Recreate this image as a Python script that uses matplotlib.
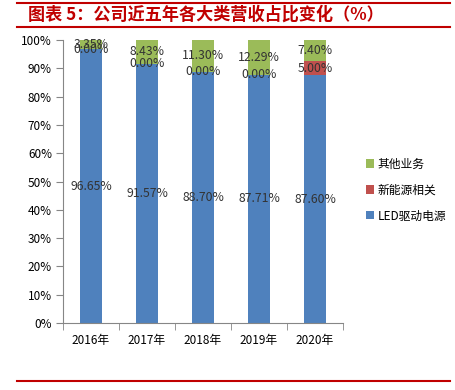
import matplotlib.pyplot as plt
import numpy as np
from matplotlib.lines import Line2D

plt.rcParams['font.family'] = ['Noto Sans CJK SC', 'DejaVu Sans']

years = ['2016年', '2017年', '2018年', '2019年', '2020年']
led = [96.65, 91.57, 88.70, 87.71, 87.60]
new_energy = [0.00, 0.00, 0.00, 0.00, 5.00]
other = [3.35, 8.43, 11.30, 12.29, 7.40]

c_led = '#4F81BD'
c_ne = '#C0504D'
c_other = '#9BBB59'
red = '#C00000'

fig = plt.figure(figsize=(4.55, 3.9), dpi=100)
ax = fig.add_axes([63 / 455, 1 - 323 / 390, 280 / 455, 283 / 390])

x = np.arange(len(years))
w = 0.39
led = np.array(led)
new_energy = np.array(new_energy)
other = np.array(other)

b1 = ax.bar(x, led, w, color=c_led, label='LED驱动电源')
b2 = ax.bar(x, new_energy, w, bottom=led, color=c_ne, label='新能源相关')
b3 = ax.bar(x, other, w, bottom=led + new_energy, color=c_other, label='其他业务')

lab_color = '#333333'
for i in range(len(years)):
    ax.text(x[i], led[i] / 2, '%.2f%%' % led[i], ha='center', va='center',
            fontsize=8.8, color=lab_color)
    ax.text(x[i], led[i] + new_energy[i] / 2, '%.2f%%' % new_energy[i],
            ha='center', va='center', fontsize=8.8, color=lab_color)
    ax.text(x[i], led[i] + new_energy[i] + other[i] / 2, '%.2f%%' % other[i],
            ha='center', va='center', fontsize=8.8, color=lab_color)

ax.set_xlim(-0.5, len(years) - 0.5)
ax.set_ylim(0, 100)
ax.set_yticks(np.arange(0, 101, 10))
ax.set_yticklabels(['%d%%' % v for v in range(0, 101, 10)], fontsize=8.5)
ax.set_xticks(x)
ax.set_xticklabels(years, fontsize=8.5)
ax.tick_params(axis='x', length=0, pad=8)
ax.set_xticks(np.arange(-0.5, len(years)), minor=True)
ax.tick_params(axis='x', which='minor', length=5, color='#868686')
ax.tick_params(axis='y', length=5, color='#868686', pad=3)
for s in ['top', 'right']:
    ax.spines[s].set_visible(False)
for s in ['left', 'bottom']:
    ax.spines[s].set_color('#868686')

handles = [b3, b2, b1]
ax.legend(handles, [h.get_label() for h in handles], loc='center left',
          bbox_to_anchor=(355 / 455, 1 - 190 / 390), bbox_transform=fig.transFigure,
          frameon=False, fontsize=8.5, handlelength=0.7, handleheight=0.7,
          handletextpad=0.3, labelspacing=1.1)

# header / footer rules and title
for yy in [3, 27, 381]:
    fig.add_artist(Line2D([17 / 455, 450 / 455], [1 - yy / 390] * 2,
                          color=red, lw=1.5))
fig.text(28 / 455, 1 - 15 / 390, '图表 5：公司近五年各大类营收占比变化（%）',
         color=red, fontsize=12.3, fontweight='bold', va='center', ha='left')

fig.savefig('out.png', dpi=100)
